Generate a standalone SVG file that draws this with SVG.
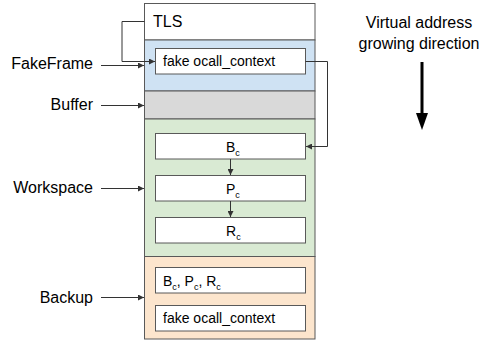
<svg xmlns="http://www.w3.org/2000/svg" width="483" height="342" viewBox="0 0 483 342">
  <style>
    .sec { stroke: #595959; stroke-width: 1; }
    .box { fill: #ffffff; stroke: #595959; stroke-width: 1; }
    .lbl { font-family: "Liberation Sans", Arial, sans-serif; font-size: 16px; fill: #000; }
    .txt { font-family: "Liberation Sans", Arial, sans-serif; font-size: 14px; fill: #000; }
    .sub { font-size: 9px; }
    .wire { fill: none; stroke: #333; stroke-width: 1; }
  </style>
  <defs>
    <marker id="ah" viewBox="0 0 6 6" refX="6" refY="3" markerWidth="6" markerHeight="6" markerUnits="userSpaceOnUse" orient="auto">
      <path d="M0,0 L6,3 L0,6 z" fill="#333"/>
    </marker>
  </defs>

  <!-- memory column sections -->
  <g id="tls">
    <rect class="sec" x="144.5" y="3.5" width="170.5" height="36.5" fill="#ffffff"/>
    <text class="lbl" x="153" y="27">TLS</text>
  </g>
  <g id="fakeframe">
    <rect class="sec" x="144.5" y="40" width="170.5" height="51" fill="#cfe2f3"/>
    <rect class="box" x="155.5" y="48.5" width="150" height="25.5"/>
    <text class="txt" x="163" y="66">fake ocall_context</text>
  </g>
  <g id="buffer">
    <rect class="sec" x="144.5" y="91" width="170.5" height="28" fill="#d9d9d9"/>
  </g>
  <g id="workspace">
    <rect class="sec" x="144.5" y="119" width="170.5" height="137.5" fill="#d9ead3"/>
    <g id="bc">
      <rect class="box" x="155.5" y="133.5" width="150" height="25.5"/>
      <text class="txt" x="226" y="151.5">B<tspan class="sub" dy="4">c</tspan></text>
    </g>
    <g id="pc">
      <rect class="box" x="155.5" y="175.5" width="150" height="25.5"/>
      <text class="txt" x="226" y="193.5">P<tspan class="sub" dy="4">c</tspan></text>
    </g>
    <g id="rc">
      <rect class="box" x="155.5" y="217.5" width="150" height="25.5"/>
      <text class="txt" x="226" y="235.5">R<tspan class="sub" dy="4">c</tspan></text>
    </g>
  </g>
  <g id="backup">
    <rect class="sec" x="144.5" y="256.5" width="170.5" height="82.5" fill="#fce5cd"/>
    <g id="saved-regs">
      <rect class="box" x="155.5" y="267.5" width="150" height="25.5"/>
      <text class="txt" x="163" y="285.5">B<tspan class="sub" dy="4">c</tspan><tspan dy="-4">, P</tspan><tspan class="sub" dy="4">c</tspan><tspan dy="-4">, R</tspan><tspan class="sub" dy="4">c</tspan></text>
    </g>
    <g id="saved-context">
      <rect class="box" x="155.5" y="305.5" width="150" height="25.5"/>
      <text class="txt" x="163" y="323">fake ocall_context</text>
    </g>
  </g>

  <!-- side labels -->
  <g id="label-fakeframe"><text class="lbl" x="93" y="69" text-anchor="end">FakeFrame</text></g>
  <g id="label-buffer"><text class="lbl" x="93" y="110" text-anchor="end">Buffer</text></g>
  <g id="label-workspace"><text class="lbl" x="93" y="193" text-anchor="end">Workspace</text></g>
  <g id="label-backup"><text class="lbl" x="93" y="303" text-anchor="end">Backup</text></g>

  <g id="direction">
    <text class="lbl" x="419" y="28" text-anchor="middle">Virtual address</text>
    <text class="lbl" x="419" y="49" text-anchor="middle">growing direction</text>
    <rect x="420.5" y="62" width="3" height="52" fill="#000"/>
    <path d="M416,113 L428,113 L422,130 z" fill="#000"/>
  </g>

  <!-- connectors -->
  <g id="connectors">
    <path class="wire" d="M144.5,21.5 H122 V61.5 H155" marker-end="url(#ah)"/>
    <path class="wire" d="M101,65.5 H144" marker-end="url(#ah)"/>
    <path class="wire" d="M101,105.5 H144" marker-end="url(#ah)"/>
    <path class="wire" d="M101,188.5 H144" marker-end="url(#ah)"/>
    <path class="wire" d="M101,297.5 H144" marker-end="url(#ah)"/>
    <path class="wire" d="M305.5,61.5 H327.5 V146.5 H306" marker-end="url(#ah)"/>
    <path class="wire" d="M230.5,159 V175" marker-end="url(#ah)"/>
    <path class="wire" d="M230.5,201 V217" marker-end="url(#ah)"/>
  </g>
</svg>
